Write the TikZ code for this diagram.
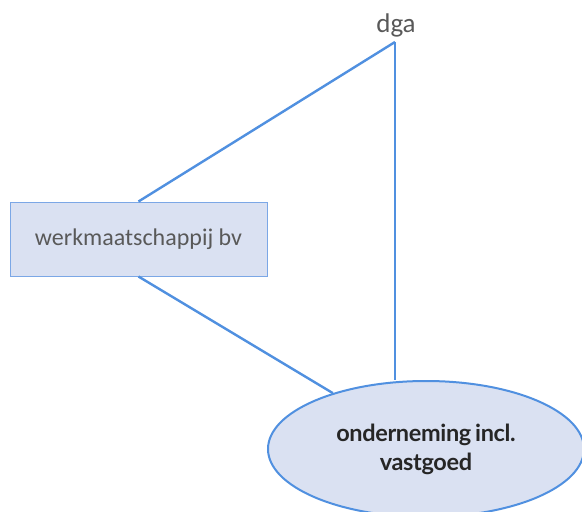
\documentclass[tikz,border=0pt]{standalone}
\usepackage{fontspec}
\setmainfont{Carlito}
\newfontfamily\labelbold[LetterSpace=-1.5]{Lato}
\usetikzlibrary{shapes.geometric}
\definecolor{linkblue}{HTML}{5090E0}
\definecolor{boxedge}{HTML}{7BA7E6}
\definecolor{boxfill}{HTML}{DAE1F2}
\definecolor{txtgray}{HTML}{595959}
\definecolor{txtdark}{HTML}{262626}
\tikzset{
  link/.style={draw=linkblue, line width=2.4pt},
  entitybox/.style={draw=boxedge, line width=1pt, fill=boxfill,
    minimum width=257pt, minimum height=74pt, inner sep=0pt,
    text=txtgray, font=\fontsize{24}{28}\selectfont},
  holdingoval/.style={ellipse, draw=linkblue, line width=2pt, fill=boxfill,
    minimum width=316pt, minimum height=136pt, inner sep=0pt,
    text=txtdark, align=center,
    font=\labelbold\bfseries\fontsize{23.5}{29}\selectfont},
  person/.style={text=txtgray, font=\fontsize{27}{30}\selectfont, inner sep=0pt}
}
\begin{document}
\begin{tikzpicture}[x=1pt, y=-1pt]
  \useasboundingbox (0,0) rectangle (582,512);
  \fill[white] (0,0) rectangle (582,512);
  \node[person] (dga) at (396,25) {dga};
  \coordinate (apex) at (395,42);
  \node[entitybox] (werk) at (138.5,239) {werkmaatschappij bv};
  \node[holdingoval] (ond) at (426,449) {onderneming\,incl.\\vastgoed};
  \draw[link] (apex) -- (werk.north);
  \draw[link] (apex) -- (apex |- ond.north);
  \draw[link] (werk.south) -- (ond);
\end{tikzpicture}
\end{document}
